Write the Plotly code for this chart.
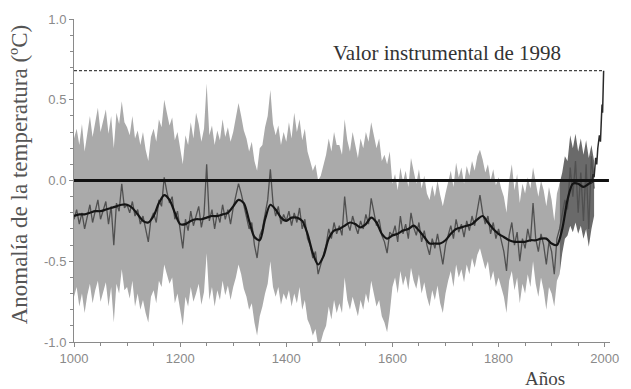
import plotly.graph_objects as go

# ---------------- data ----------------
recon_years = list(range(1000, 1985, 5))

recon_values = [
    -0.24, -0.18, -0.27, -0.20, -0.30, -0.22, -0.15, -0.26, -0.19, -0.12, -0.24, -0.18, -0.13, -0.27, -0.16, -0.40, -0.14, -0.19, -0.02, -0.17,
    -0.15, -0.20, -0.13, -0.22, -0.18, -0.27, -0.22, -0.30, -0.38, -0.24, -0.20, -0.26, -0.12, -0.16, 0.02, -0.07, -0.14, -0.10, -0.24, -0.19,
    -0.30, -0.42, -0.24, -0.31, -0.19, -0.28, -0.22, -0.16, -0.29, -0.21, 0.10, -0.25, -0.18, -0.30, -0.20, -0.26, -0.15, -0.24, -0.18, -0.27,
    -0.17, -0.10, -0.02, -0.08, -0.16, -0.22, -0.30, -0.26, -0.40, -0.48, -0.34, -0.30, -0.20, -0.12, 0.07, -0.14, -0.22, -0.16, -0.27, -0.21,
    -0.25, -0.19, -0.28, -0.20, -0.26, -0.17, -0.30, -0.24, -0.36, -0.40, -0.48, -0.44, -0.58, -0.52, -0.45, -0.40, -0.30, -0.36, -0.26, -0.33,
    -0.28, -0.34, -0.10, -0.26, -0.31, -0.22, -0.28, -0.33, -0.25, -0.30, -0.21, -0.27, -0.11, -0.20, -0.28, -0.24, -0.34, -0.38, -0.45, -0.32,
    -0.34, -0.28, -0.38, -0.22, -0.33, -0.27, -0.36, -0.20, -0.29, -0.34, -0.26, -0.38, -0.31, -0.40, -0.46, -0.36, -0.42, -0.33, -0.44, -0.52,
    -0.40, -0.33, -0.28, -0.36, -0.24, -0.32, -0.27, -0.35, -0.25, -0.31, -0.22, -0.28, -0.18, -0.09, -0.20, -0.27, -0.22, -0.33, -0.26, -0.36,
    -0.30, -0.38, -0.44, -0.56, -0.34, -0.26, -0.40, -0.32, -0.50, -0.36, -0.42, -0.30, -0.38, -0.14, -0.36, -0.44, -0.33, -0.40, -0.52, -0.38,
    -0.44, -0.58, -0.36, -0.30, -0.22, -0.12, -0.18, 0.08, -0.10, 0.12, -0.20, 0.05, -0.25, 0.10, -0.30, 0.15, -0.05,
]

band_upper = [
    0.26, 0.32, 0.22, 0.35, 0.18, 0.30, 0.40, 0.27, 0.36, 0.45, 0.30, 0.38, 0.44, 0.29, 0.40, 0.20, 0.42, 0.35, 0.49, 0.36,
    0.33, 0.28, 0.40, 0.26, 0.31, 0.22, 0.30, 0.19, 0.12, 0.27, 0.32, 0.24, 0.38, 0.33, 0.50, 0.42, 0.34, 0.39, 0.25, 0.30,
    0.20, 0.10, 0.28, 0.22, 0.36, 0.26, 0.42, 0.35, 0.24, 0.32, 0.60, 0.28, 0.34, 0.22, 0.31, 0.25, 0.38, 0.27, 0.33, 0.24,
    0.30, 0.38, 0.48, 0.40, 0.31, 0.26, 0.18, 0.24, 0.12, 0.06, 0.20, 0.22, 0.33, 0.40, 0.56, 0.35, 0.28, 0.34, 0.22, 0.30,
    0.24, 0.36, 0.26, 0.42, 0.30, 0.38, 0.25, 0.32, 0.18, 0.12, 0.06, 0.10, 0.00, 0.03, 0.10, 0.16, 0.26, 0.18, 0.30, 0.22,
    0.22, 0.16, 0.38, 0.25, 0.18, 0.30, 0.22, 0.14, 0.26, 0.20, 0.30, 0.24, 0.36, 0.28, 0.20, 0.26, 0.12, 0.16, 0.10, 0.18,
    -0.02, 0.04, -0.06, 0.08, -0.01, 0.06, -0.04, 0.14, 0.05, -0.02, 0.07, -0.05, 0.03, -0.08, -0.12, -0.03, -0.10, 0.00, -0.09, -0.16,
    -0.08, 0.00, 0.06, -0.04, 0.11, 0.02, 0.08, -0.02, 0.09, 0.03, 0.12, 0.06, 0.15, 0.19, 0.13, 0.05, 0.10, 0.00, 0.07, -0.03,
    0.02, -0.05, -0.10, -0.20, 0.00, 0.10, -0.06, 0.04, -0.14, -0.02, -0.08, 0.02, -0.05, 0.08, -0.02, -0.10, 0.00, -0.06, -0.16, -0.04,
    -0.12, -0.25, -0.08, -0.02, 0.05, 0.15, 0.12, 0.28, 0.20, 0.29, 0.18, 0.26, 0.16, 0.25, 0.14, 0.22, 0.12,
]

band_lower = [
    -0.72, -0.66, -0.78, -0.70, -0.82, -0.71, -0.64, -0.76, -0.68, -0.62, -0.75, -0.69, -0.63, -0.78, -0.66, -0.88, -0.64, -0.70, -0.55, -0.68,
    -0.66, -0.73, -0.62, -0.78, -0.70, -0.80, -0.74, -0.82, -0.88, -0.72, -0.68, -0.76, -0.62, -0.66, -0.52, -0.58, -0.64, -0.60, -0.76, -0.70,
    -0.80, -0.90, -0.72, -0.78, -0.66, -0.75, -0.70, -0.64, -0.77, -0.69, -0.45, -0.74, -0.66, -0.78, -0.68, -0.74, -0.62, -0.71, -0.65, -0.74,
    -0.66, -0.60, -0.52, -0.58, -0.67, -0.72, -0.80, -0.76, -0.88, -0.96, -0.84, -0.78, -0.70, -0.64, -0.50, -0.66, -0.72, -0.66, -0.77, -0.70,
    -0.74, -0.68, -0.78, -0.70, -0.76, -0.66, -0.80, -0.74, -0.86, -0.90, -0.96, -0.92, -1.02, -1.00, -0.94, -0.90, -0.78, -0.86, -0.74, -0.82,
    -0.76, -0.82, -0.60, -0.74, -0.80, -0.72, -0.78, -0.84, -0.74, -0.80, -0.70, -0.76, -0.62, -0.70, -0.78, -0.74, -0.84, -0.88, -0.94, -0.82,
    -0.66, -0.60, -0.70, -0.56, -0.65, -0.59, -0.68, -0.54, -0.62, -0.67, -0.58, -0.70, -0.63, -0.72, -0.78, -0.68, -0.74, -0.65, -0.76, -0.82,
    -0.70, -0.62, -0.56, -0.66, -0.52, -0.60, -0.55, -0.63, -0.52, -0.58, -0.48, -0.54, -0.46, -0.42, -0.48, -0.55, -0.50, -0.62, -0.56, -0.66,
    -0.60, -0.66, -0.72, -0.82, -0.62, -0.56, -0.68, -0.60, -0.76, -0.64, -0.70, -0.58, -0.66, -0.50, -0.64, -0.72, -0.60, -0.68, -0.80, -0.66,
    -0.70, -0.78, -0.62, -0.58, -0.45, -0.36, -0.34, -0.28, -0.32, -0.26, -0.33, -0.28, -0.36, -0.30, -0.41, -0.30, -0.22,
]

smooth_years = list(range(1000, 1990, 10))
smooth_values = [
    -0.22, -0.21, -0.21, -0.20, -0.19, -0.19, -0.18, -0.17, -0.16, -0.15,
    -0.15, -0.17, -0.21, -0.25, -0.26, -0.22, -0.14, -0.09, -0.12, -0.20,
    -0.27, -0.27, -0.25, -0.24, -0.24, -0.23, -0.22, -0.22, -0.21, -0.20,
    -0.16, -0.12, -0.14, -0.25, -0.35, -0.37, -0.24, -0.15, -0.18, -0.23,
    -0.25, -0.23, -0.23, -0.25, -0.33, -0.45, -0.52, -0.47, -0.36, -0.31,
    -0.30, -0.28, -0.26, -0.27, -0.29, -0.27, -0.23, -0.26, -0.33, -0.36,
    -0.34, -0.33, -0.31, -0.30, -0.28, -0.31, -0.35, -0.39, -0.39, -0.39,
    -0.37, -0.33, -0.30, -0.29, -0.28, -0.27, -0.24, -0.22, -0.26, -0.30,
    -0.33, -0.35, -0.37, -0.38, -0.38, -0.38, -0.37, -0.37, -0.36, -0.36,
    -0.39, -0.40, -0.30, -0.12, -0.02, -0.02, -0.04, -0.02, 0.00,
]

instr_years = [1975, 1978, 1980, 1983, 1985, 1987, 1990, 1992, 1994, 1995, 1996, 1997, 1998]
instr_values = [-0.02, 0.04, 0.02, 0.14, 0.10, 0.20, 0.28, 0.24, 0.40, 0.47, 0.42, 0.55, 0.68]

x_tick_values = [1000, 1200, 1400, 1600, 1800, 2000]
x_tick_labels = ["1000", "1200", "1400", "1600", "1800", "2000"]
y_tick_values = [-1.0, -0.5, 0.0, 0.5, 1.0]
y_tick_labels = ["-1.0", "-0.5", "0.0", "0.5", "1.0"]

label_instr = "Valor instrumental de 1998"
label_y = "Anomalía de la temperatura (ºC)"
label_x = "Años"

# ---------------- figure ----------------
split_year = 1915
k = recon_years.index(split_year)

fig = go.Figure()

# light uncertainty band
fig.add_trace(go.Scatter(x=recon_years[:k + 1], y=band_upper[:k + 1], mode="lines",
                         line=dict(width=0), hoverinfo="skip", showlegend=False))
fig.add_trace(go.Scatter(x=recon_years[:k + 1], y=band_lower[:k + 1], mode="lines",
                         line=dict(width=0), fill="tonexty", fillcolor="#aaaaaa",
                         hoverinfo="skip", showlegend=False))
# darker portion of the band (20th century)
fig.add_trace(go.Scatter(x=recon_years[k:], y=band_upper[k:], mode="lines",
                         line=dict(width=0), hoverinfo="skip", showlegend=False))
fig.add_trace(go.Scatter(x=recon_years[k:], y=band_lower[k:], mode="lines",
                         line=dict(width=0), fill="tonexty", fillcolor="#6a6a6a",
                         hoverinfo="skip", showlegend=False))

# yearly reconstruction
fig.add_trace(go.Scatter(x=recon_years, y=recon_values, mode="lines",
                         line=dict(color="#505050", width=1.3), showlegend=False))
# smoothed reconstruction
fig.add_trace(go.Scatter(x=smooth_years, y=smooth_values, mode="lines",
                         line=dict(color="#151515", width=2.2, shape="spline", smoothing=0.8),
                         showlegend=False))
# instrumental record
fig.add_trace(go.Scatter(x=instr_years, y=instr_values, mode="lines",
                         line=dict(color="#2a2a2a", width=1.5), showlegend=False))

instr_1998 = instr_values[instr_years.index(1998)]

fig.add_shape(type="line", xref="x", yref="y", x0=1000, x1=2008, y0=0, y1=0,
              line=dict(color="#111111", width=3), layer="above")
fig.add_shape(type="line", xref="x", yref="y", x0=1000, x1=1998,
              y0=instr_1998, y1=instr_1998,
              line=dict(color="#444444", width=1.2, dash="3px,2px"), layer="above")

axis_col = "#8a8a8a"
tick_font = dict(family="Liberation Sans, Arial, sans-serif", size=13, color="#8a8a8a")
serif = "Liberation Serif, Times New Roman, serif"

fig.update_layout(
    width=631, height=389,
    margin=dict(l=74, r=14, t=16, b=47),
    paper_bgcolor="white", plot_bgcolor="white",
    xaxis=dict(range=[1000, 2010], tickmode="array", tickvals=x_tick_values,
               ticktext=x_tick_labels, ticks="outside", ticklen=4, tickcolor=axis_col,
               showline=True, linecolor=axis_col, linewidth=1, showgrid=False,
               zeroline=False, tickfont=tick_font,
               minor=dict(dtick=50, tick0=1000, ticks="outside", ticklen=3, tickcolor=axis_col)),
    yaxis=dict(range=[-1, 1], tickmode="array", tickvals=y_tick_values,
               ticktext=y_tick_labels, ticks="outside", ticklen=4, tickcolor=axis_col,
               showline=True, linecolor=axis_col, linewidth=1, showgrid=False,
               zeroline=False, tickfont=tick_font,
               minor=dict(dtick=0.1, tick0=0, ticks="outside", ticklen=3, tickcolor=axis_col)),
    annotations=[
        dict(text=label_instr, xref="x", yref="y", x=1702, y=0.79, showarrow=False,
             xanchor="center", yanchor="middle",
             font=dict(family=serif, size=21, color="#333333")),
        dict(text=label_y, xref="paper", yref="paper", x=-0.102, y=0.52, showarrow=False,
             textangle=-90, xanchor="center", yanchor="middle",
             font=dict(family=serif, size=23, color="#555555")),
        dict(text=label_x, xref="x", yref="paper", x=1888, y=-0.113, showarrow=False,
             xanchor="center", yanchor="middle",
             font=dict(family=serif, size=19, color="#444444")),
    ],
)

fig.write_html("out.html", config={"displayModeBar": False},
               post_script="document.body.style.margin='0';")
